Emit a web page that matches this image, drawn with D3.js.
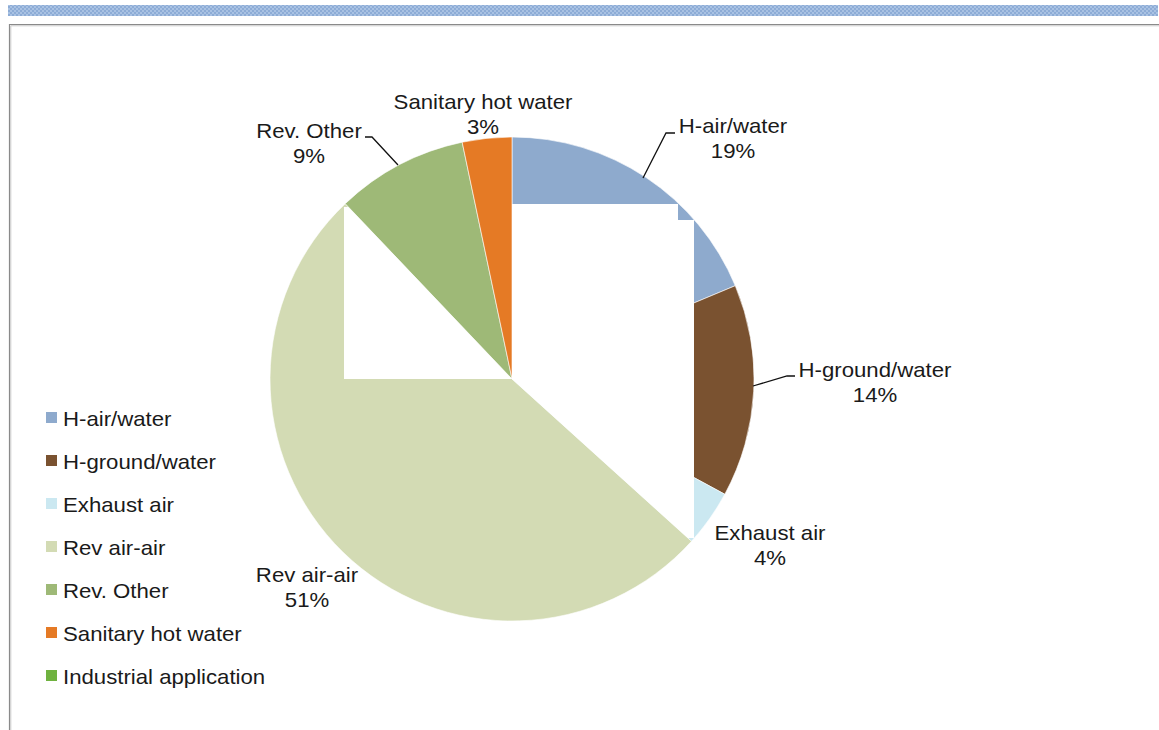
<!DOCTYPE html>
<html>
<head>
<meta charset="utf-8">
<script src="https://cdn.jsdelivr.net/npm/d3@7"></script>
<style>
  html, body { margin: 0; padding: 0; background: #fff; }
  svg { display: block; }
  text { font-family: "Liberation Sans", Arial, sans-serif; fill: #1a1a1a; }
</style>
</head>
<body>
<svg id="chart" width="1159" height="730"></svg>
<script>
// ---- data ----
const categories = ["H-air/water", "H-ground/water", "Exhaust air", "Rev air-air", "Rev. Other", "Sanitary hot water", "Industrial application"];
const shares = [18.7, 14.2, 3.8, 51.2, 8.8, 3.3, 0];
const colors = ["#8eaacd", "#7a5230", "#cbe8f1", "#d3dbb4", "#9eb977", "#e57a25", "#6fb23f"];

const W = 1159, H = 730;
const svg = d3.select("#chart");

// top patterned band
const defs = svg.append("defs");
const pat = defs.append("pattern").attr("id", "band").attr("width", 4).attr("height", 4).attr("patternUnits", "userSpaceOnUse");
pat.append("rect").attr("width", 4).attr("height", 4).attr("fill", "#8dacd6");
pat.append("rect").attr("width", 2).attr("height", 2).attr("fill", "#a9c2e3");
pat.append("rect").attr("x", 2).attr("y", 2).attr("width", 2).attr("height", 2).attr("fill", "#a9c2e3");
svg.append("rect").attr("x", 8).attr("y", 5).attr("width", 1150).attr("height", 11).attr("fill", "url(#band)");

// frame (top & left)
svg.append("path").attr("d", `M9.5,${H} V24.5 H${W}`).attr("fill", "none").attr("stroke", "#8a8a8a").attr("stroke-width", 1.2);
svg.append("path").attr("d", `M10.8,${H} V25.8 H${W}`).attr("fill", "none").attr("stroke", "#c8c8c8").attr("stroke-width", 1);

// pie
const cx = 512, cy = 379, r = 242;
const pie = d3.pie().sort(null).value(d => d)(shares);
const arc = d3.arc().innerRadius(0).outerRadius(r);
const g = svg.append("g").attr("transform", `translate(${cx},${cy})`);

g.selectAll("path.slice").data(pie).join("path")
  .attr("class", "slice")
  .attr("d", arc)
  .attr("fill", (d, i) => colors[i])
  .attr("stroke", "#fff").attr("stroke-width", d => d.value > 0 ? 0.6 : 0);

// white cut-out artifacts of the original rendering
const clipA = defs.append("clipPath").attr("id", "clipA");
pie.slice(0, 3).forEach(d => clipA.append("path").attr("d", arc(d)).attr("transform", `translate(${cx},${cy})`));
const clipB = defs.append("clipPath").attr("id", "clipB");
clipB.append("path").attr("d", arc(pie[3])).attr("transform", `translate(${cx},${cy})`);
const cutA = svg.append("g").attr("clip-path", "url(#clipA)");
cutA.append("rect").attr("x", cx).attr("y", cy - 175).attr("width", 166).attr("height", 176).attr("fill", "#fff");
cutA.append("rect").attr("x", cx).attr("y", cy - 159).attr("width", 182).attr("height", 318).attr("fill", "#fff");
svg.append("g").attr("clip-path", "url(#clipB)")
  .append("rect").attr("x", cx - 168).attr("y", cy - 172).attr("width", 168).attr("height", 172).attr("fill", "#fff");

// data labels
const labelPos = [
  { x: 733, y: 133 },
  { x: 875, y: 377 },
  { x: 770, y: 540 },
  { x: 307, y: 582 },
  { x: 309, y: 138 },
  { x: 483, y: 109 }
];
const leaders = [
  [[643, 178], [666, 133], [675, 133]],
  [[753, 386], [787, 376], [795, 376]],
  null,
  null,
  [[398, 165], [372, 137], [365, 137]],
  null
];
const line = d3.line();
leaders.forEach(l => {
  if (l) svg.append("path").attr("d", line(l)).attr("fill", "none").attr("stroke", "#111").attr("stroke-width", 1.3);
});
labelPos.forEach((p, i) => {
  const t = svg.append("g").attr("transform", `translate(${p.x},${p.y}) scale(1.11,1)`);
  t.append("text").attr("text-anchor", "middle").attr("font-size", 20).text(categories[i]);
  t.append("text").attr("text-anchor", "middle").attr("font-size", 20).attr("y", 25.5).text(Math.round(shares[i]) + "%");
});

// legend
const leg = svg.append("g");
categories.forEach((c, i) => {
  const y = 426 + i * 43;
  leg.append("rect").attr("x", 46).attr("y", y - 14).attr("width", 11).attr("height", 11).attr("fill", colors[i]);
  leg.append("g").attr("transform", `translate(63,${y}) scale(1.11,1)`)
    .append("text").attr("font-size", 20).text(c);
});
</script>
</body>
</html>
